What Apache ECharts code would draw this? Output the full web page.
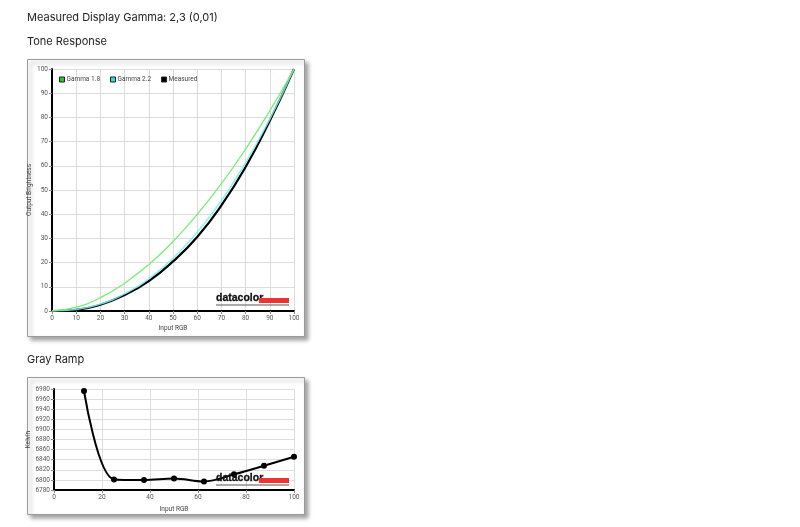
<!DOCTYPE html>
<html><head><meta charset="utf-8">
<script src="https://cdn.jsdelivr.net/npm/echarts@6/dist/echarts.min.js"></script>
<style>html,body{margin:0;padding:0;background:#fff;}#c{width:800px;height:527px;}</style>
</head><body><div id="c"></div>
<script>
// Tone response data
const inputRGB = [0,10,20,30,40,50,60,70,80,90,100];
const gamma18 = [0,1.6,5.5,11.5,19.2,28.7,39.9,52.6,66.9,82.7,100];
const gamma22 = [0,0.6,2.9,7.1,13.3,21.8,32.5,45.6,61.2,79.3,100];
const measured = [0,0.5,2.6,6.6,12.4,20.5,30.6,43.6,59.5,78.6,100];
const toneSeriesNames = ['Gamma 1.8','Gamma 2.2','Measured'];
// Gray ramp data
const rampInput = [12.5,25,37.5,50,62.5,75,87.5,100];
const rampKelvin = [6976,6801,6800,6803,6797,6811,6828,6846];

const pairs = (xs, ys) => xs.map((x,i)=>[x, ys[i]]);
const FONT = 'Roboto, "Liberation Sans", sans-serif';
const lbl = {fontSize:6.5, color:'#555', fontFamily:FONT, formatter:(v)=>String(v)};
const chart = echarts.init(document.getElementById('c'), null, {renderer:'canvas'});

function logo(x, y){
  return [
    {type:'text', z:100, x:x, y:y-10, style:{text:'datacolor', font:'bold 10.5px "Liberation Sans", Arial, sans-serif', fill:'#111', stroke:'#111', lineWidth:0.3}},
    {type:'rect', z:100, shape:{x:x+43, y:y-5, width:30, height:5}, style:{fill:'#ee3333', stroke:null}},
    {type:'line', z:100, shape:{x1:x, y1:y+2, x2:x+73, y2:y+2}, style:{stroke:'#555', lineWidth:1.2}}
  ];
}
function box(x,y,w,h){
  return {type:'rect', z:-10, shape:{x:x,y:y,width:w,height:h}, style:{fill:'#fff', stroke:'#9a9a9a', lineWidth:1, shadowBlur:4, shadowOffsetX:3, shadowOffsetY:3, shadowColor:'rgba(0,0,0,0.35)'}};
}
const titleStyle = {font:'11px Inter, "Noto Sans", sans-serif', fill:'#222'};

const axisCommon = {
  axisLine:{show:true, onZero:false, lineStyle:{color:'#000', width:2}},
  axisTick:{show:true, length:3, lineStyle:{color:'#888'}},
  axisLabel:Object.assign({margin:4}, lbl),
  splitLine:{show:true, lineStyle:{color:'#dddddd', width:1}},
  nameTextStyle:{fontSize:6.5, color:'#444', fontFamily:FONT}
};

chart.setOption({
  animation:false,
  backgroundColor:'#fff',
  graphic:[
    box(27.5,59.5,277,277),
    box(27.5,377.5,277,137),
    {type:'text', style:Object.assign({x:27, y:12, text:'Measured Display Gamma: 2,3 (0,01)'}, titleStyle)},
    {type:'text', style:Object.assign({x:27, y:36, text:'Tone Response'}, titleStyle)},
    {type:'text', style:Object.assign({x:27, y:354, text:'Gray Ramp'}, titleStyle)}
  ].concat(logo(216, 303), logo(216, 483)),
  legend:{
    data:toneSeriesNames, left:59, top:76, padding:0, icon:'rect', itemWidth:5, itemHeight:5, itemGap:10,
    textStyle:{fontSize:6.5, color:'#444', fontFamily:FONT, padding:[0,0,0,-3]},
    itemStyle:{borderColor:'#222', borderWidth:1}
  },
  grid:[
    {left:52, top:69, width:242, height:242},
    {left:54, top:389, width:240, height:101}
  ],
  xAxis:[
    Object.assign({}, axisCommon, {gridIndex:0, type:'value', min:0, max:100, interval:10, name:'Input RGB', nameLocation:'middle', nameGap:14}),
    Object.assign({}, axisCommon, {gridIndex:1, type:'value', min:0, max:100, interval:20, name:'Input RGB', nameLocation:'middle', nameGap:16})
  ],
  yAxis:[
    Object.assign({}, axisCommon, {gridIndex:0, type:'value', min:0, max:100, interval:10, name:'Output Brightness', nameLocation:'middle', nameGap:15}),
    Object.assign({}, axisCommon, {gridIndex:1, type:'value', min:6780, max:6980, interval:20, name:'Kelvin', nameLocation:'middle', nameGap:18})
  ],
  series:[
    {name:'Measured', type:'line', xAxisIndex:0, yAxisIndex:0, data:pairs(inputRGB, measured), smooth:true, showSymbol:false, symbol:'none', z:2,
      itemStyle:{color:'#000'}, lineStyle:{color:'#000', width:2.2}},
    {name:'Gamma 2.2', type:'line', xAxisIndex:0, yAxisIndex:0, data:pairs(inputRGB, gamma22), smooth:true, showSymbol:false, symbol:'none', z:3,
      itemStyle:{color:'#33dddd'}, lineStyle:{color:'#7ff0f0', width:1.6, opacity:0.85}},
    {name:'Gamma 1.8', type:'line', xAxisIndex:0, yAxisIndex:0, data:pairs(inputRGB, gamma18), smooth:true, showSymbol:false, symbol:'none', z:4,
      itemStyle:{color:'#22cc22'}, lineStyle:{color:'#77ee77', width:1.3}},
    {name:'Kelvin', type:'line', xAxisIndex:1, yAxisIndex:1, data:pairs(rampInput, rampKelvin), smooth:0.35, symbol:'circle', symbolSize:6,
      itemStyle:{color:'#000'}, lineStyle:{color:'#000', width:2}}
  ]
});
</script></body></html>
